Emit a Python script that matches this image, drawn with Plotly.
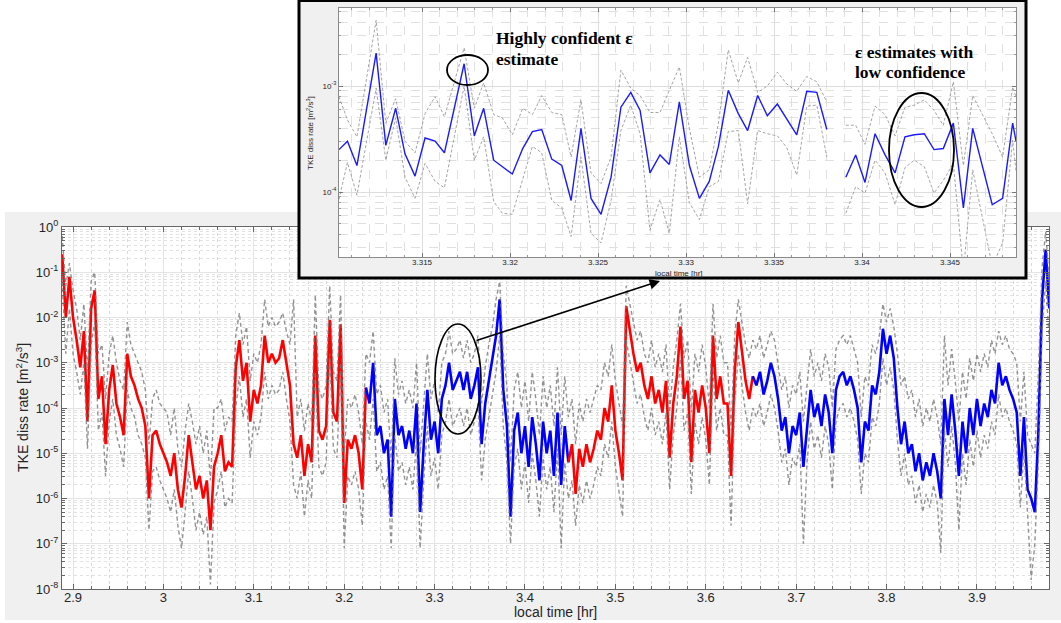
import numpy as np
import plotly.graph_objects as go

# ---------------- main series (log10 of TKE dissipation rate) ----------------
t_start, t_step = 2.888, 0.004
eps_log = [
    -0.6, -2.0, -1.1, -2.0, -2.5, -3.1, -2.3, -4.3, -1.8, -1.4,
    -3.8, -3.3, -4.8, -3.6, -3.05, -3.9, -4.2, -4.6, -2.8, -3.3,
    -3.5, -3.8, -4.0, -4.4, -6.0, -4.6, -4.5, -4.8, -5.0, -5.2,
    -5.5, -5.0, -5.8, -6.2, -5.5, -4.6, -5.2, -5.8, -5.5, -6.0,
    -5.6, -6.7, -5.3, -5.0, -4.6, -5.4, -5.2, -5.3, -3.1, -2.5,
    -3.4, -3.0, -4.3, -3.6, -3.9, -3.5, -2.4, -3.0, -2.8, -3.0,
    -2.9, -2.5, -3.0, -3.5, -4.8, -5.1, -4.6, -5.5, -4.8, -5.2,
    -2.4, -4.5, -4.7, -4.4, -2.05, -4.1, -4.3, -2.15, -6.1, -4.7,
    -4.9, -4.6, -5.0, -5.8, -3.55, -3.9, -3.0, -4.6, -4.4, -5.0,
    -4.7, -6.4, -3.8, -4.6, -4.4, -4.9, -4.5, -5.0, -3.9, -6.3,
    -4.8, -3.6, -4.7, -4.3, -5.0, -3.8, -3.5, -3.0, -3.6, -3.4,
    -3.2, -3.6, -3.2, -3.8, -3.5, -3.1, -4.8, -3.9, -3.4, -2.9,
    -2.4, -1.6, -3.6, -4.4, -6.4, -4.5, -4.1, -5.0, -4.4, -5.3,
    -4.2, -4.8, -5.6, -4.3, -5.0, -4.5, -5.5, -4.1, -5.7, -4.4,
    -5.2, -4.8, -5.9, -4.9, -5.3, -4.8, -5.2, -4.9, -4.5, -4.7,
    -4.0, -4.3, -3.5, -4.5, -5.0, -5.6, -1.75, -2.3, -2.8, -3.2,
    -3.0, -3.5, -3.8, -3.3, -3.9, -3.6, -4.1, -3.4, -5.1, -3.9,
    -3.3, -2.2, -3.8, -3.4, -5.2, -3.6, -4.1, -3.5, -4.0, -5.0,
    -2.4, -3.8, -3.3, -3.9, -3.9, -5.5, -3.2, -2.1, -2.8, -3.4,
    -3.8, -3.3, -3.5, -3.2, -3.7, -3.4, -3.0, -3.3, -3.8, -4.5,
    -4.2, -5.0, -4.4, -4.6, -4.1, -5.3, -4.5, -3.6, -4.2, -3.9,
    -4.4, -3.7, -4.1, -5.0, -3.6, -3.3, -3.2, -3.5, -3.3, -3.6,
    -4.0, -5.2, -4.3, -4.5, -3.5, -3.7, -3.2, -2.25, -2.8, -2.4,
    -2.9, -4.0, -4.8, -4.3, -5.0, -4.8, -5.4, -5.0, -5.6, -5.2,
    -5.5, -5.0, -5.4, -6.0, -3.8, -4.6, -3.7, -4.5, -5.5, -4.3,
    -5.0, -4.0, -4.6, -3.8, -4.4, -3.9, -4.2, -3.6, -3.9, -3.0,
    -3.5, -3.3, -3.6, -3.8, -4.1, -5.5, -4.2, -5.8, -6.0, -6.3,
    -4.5, -1.6, -0.5, -1.8,
]
hi_log = [
    -0.2, -1.3, -0.8, -1.4, -1.8, -2.5, -1.7, -3.2, -1.2, -1.0,
    -2.8, -2.6, -3.8, -2.8, -2.4, -3.0, -3.4, -3.6, -2.1, -2.6,
    -2.8, -3.0, -3.2, -3.6, -4.8, -3.8, -3.6, -3.9, -4.0, -4.1,
    -4.6, -4.0, -4.9, -5.3, -4.5, -3.9, -4.3, -4.8, -4.4, -5.0,
    -4.5, -5.6, -4.0, -4.0, -3.8, -4.5, -4.2, -4.3, -2.4, -1.9,
    -2.6, -2.2, -3.4, -2.8, -3.0, -2.6, -1.6, -2.2, -2.0, -2.2,
    -2.1, -1.9, -2.3, -2.6, -1.6, -4.2, -3.8, -4.5, -3.9, -4.3,
    -1.5, -3.6, -3.8, -3.5, -1.3, -3.2, -3.4, -1.5, -5.0, -3.8,
    -4.0, -3.7, -4.1, -4.8, -2.8, -3.0, -2.3, -3.7, -3.5, -4.1,
    -3.8, -5.2, -2.9, -3.7, -3.4, -3.9, -3.6, -4.0, -3.0, -5.0,
    -3.9, -2.8, -3.8, -3.4, -4.1, -3.0, -2.8, -2.3, -2.8, -2.7,
    -2.5, -2.9, -2.5, -3.0, -2.8, -2.4, -3.9, -3.1, -2.6, -2.2,
    -1.6, -1.2, -2.8, -3.5, -5.2, -3.6, -3.2, -4.0, -3.4, -4.3,
    -3.2, -3.8, -4.6, -3.3, -4.0, -3.5, -4.4, -3.1, -4.6, -3.3,
    -4.2, -3.8, -4.8, -3.9, -4.3, -3.8, -4.1, -3.8, -3.5, -3.6,
    -3.0, -3.3, -2.6, -3.4, -3.9, -4.4, -1.3, -1.7, -2.1, -2.5,
    -2.3, -2.8, -3.0, -2.5, -3.1, -2.8, -3.2, -2.6, -4.1, -3.1,
    -2.5, -1.7, -2.9, -2.5, -4.1, -2.8, -3.2, -2.6, -3.1, -4.0,
    -1.7, -2.9, -2.4, -3.0, -3.0, -4.5, -2.4, -1.6, -2.1, -2.6,
    -2.9, -2.5, -2.7, -2.4, -2.9, -2.6, -2.3, -2.5, -3.0, -3.6,
    -3.3, -4.0, -3.5, -3.7, -3.2, -4.3, -3.5, -2.7, -3.3, -3.0,
    -3.4, -2.8, -3.1, -4.0, -2.7, -2.5, -2.4, -2.6, -2.4, -2.7,
    -3.0, -4.2, -3.3, -3.5, -2.6, -2.8, -2.4, -1.7, -2.1, -1.8,
    -2.2, -2.8, -3.5, -3.3, -3.8, -3.6, -4.2, -3.8, -4.4, -4.0,
    -4.3, -3.8, -4.2, -4.8, -2.4, -3.5, -2.7, -3.4, -4.3, -3.2,
    -3.8, -2.9, -3.4, -2.8, -3.2, -2.8, -3.1, -2.5, -2.8, -2.3,
    -2.6, -2.4, -2.7, -2.8, -3.0, -4.3, -3.2, -4.6, -4.8, -5.0,
    -3.2, -0.9, -0.1, -1.2,
]
lo_log = [
    -1.2, -2.8, -1.8, -2.8, -3.2, -3.7, -3.0, -4.9, -2.6, -2.1,
    -4.5, -4.1, -5.5, -4.3, -3.8, -4.6, -4.9, -5.3, -3.6, -4.0,
    -4.2, -4.6, -4.8, -5.1, -6.7, -5.4, -5.3, -5.6, -5.8, -6.0,
    -6.3, -5.8, -6.6, -7.1, -6.3, -5.4, -6.0, -6.7, -6.3, -6.8,
    -6.4, -7.9, -6.1, -5.8, -5.4, -6.2, -6.0, -6.1, -4.0, -3.3,
    -4.2, -3.8, -5.1, -4.3, -4.6, -4.2, -3.2, -3.8, -3.5, -3.7,
    -3.6, -3.2, -3.8, -4.3, -5.7, -6.0, -5.4, -6.4, -5.6, -6.0,
    -3.2, -5.3, -5.5, -5.2, -2.8, -4.9, -5.1, -3.0, -7.1, -5.5,
    -5.7, -5.4, -5.8, -6.6, -4.3, -4.7, -3.8, -5.4, -5.2, -5.8,
    -5.5, -7.1, -4.6, -5.4, -5.2, -5.7, -5.3, -5.8, -4.7, -7.1,
    -5.6, -4.4, -5.5, -5.1, -5.8, -4.6, -4.3, -3.8, -4.4, -4.2,
    -4.0, -4.4, -4.0, -4.6, -4.3, -3.9, -5.6, -4.7, -4.2, -3.7,
    -3.2, -2.4, -4.4, -5.2, -7.0, -5.3, -4.9, -5.8, -5.2, -6.1,
    -5.0, -5.6, -6.4, -5.1, -5.8, -5.3, -6.3, -4.9, -7.1, -5.2,
    -6.0, -5.6, -6.6, -5.7, -6.1, -5.6, -6.0, -5.7, -5.3, -5.5,
    -4.8, -5.1, -4.3, -5.3, -5.8, -6.4, -2.5, -3.0, -3.5, -3.9,
    -3.7, -4.2, -4.5, -4.0, -4.6, -4.3, -4.8, -4.1, -5.8, -4.6,
    -4.0, -2.9, -4.5, -4.1, -5.9, -4.3, -4.8, -4.2, -4.7, -5.7,
    -3.1, -4.5, -4.0, -4.6, -4.6, -6.6, -3.9, -2.8, -3.5, -4.1,
    -4.5, -4.0, -4.2, -3.9, -4.4, -4.1, -3.7, -4.0, -4.5, -5.2,
    -4.9, -5.7, -5.1, -5.3, -4.8, -7.0, -5.2, -4.3, -4.9, -4.6,
    -5.1, -4.4, -4.8, -5.8, -4.3, -4.0, -3.9, -4.2, -4.0, -4.3,
    -4.7, -5.9, -5.0, -5.2, -4.2, -4.4, -3.9, -2.9, -3.5, -3.1,
    -3.6, -4.7, -5.5, -5.0, -5.7, -5.5, -6.1, -5.7, -6.3, -5.9,
    -6.2, -5.7, -6.1, -7.2, -4.5, -5.3, -4.4, -5.2, -6.7, -5.0,
    -5.7, -4.7, -5.3, -4.5, -5.1, -4.6, -4.9, -4.3, -4.6, -3.7,
    -4.2, -4.0, -4.3, -4.5, -4.8, -6.2, -4.9, -6.5, -7.8, -7.0,
    -5.2, -2.3, -1.2, -2.5,
]
seg_edges = [2.888, 3.224, 3.448, 3.652, 3.980]
seg_colors = ["#ff0000", "#0000ff", "#ff0000", "#0000ff"]

# ---------------- inset series ----------------
inset_t = [
    3.31028, 3.31076, 3.31130, 3.31239, 3.31294, 3.31350, 3.31403, 3.31460, 3.31517, 3.31574,
    3.31627, 3.31739, 3.31797, 3.31850, 3.31907, 3.31956, 3.32013, 3.32072, 3.32127, 3.32180,
    3.32237, 3.32294, 3.32347, 3.32403, 3.32460, 3.32517, 3.32574, 3.32630, 3.32686, 3.32739,
    3.32795, 3.32852, 3.32905, 3.32962, 3.33019, 3.33076, 3.33132, 3.33184, 3.33240, 3.33297,
    3.33350, 3.33407, 3.33462, 3.33519, 3.33572, 3.33629, 3.33686, 3.33743, 3.33800, 3.33854,
    3.33908, 3.33964, 3.34017, 3.34074, 3.34131, 3.34188, 3.34244, 3.34297, 3.34354, 3.34409,
    3.34462, 3.34519, 3.34576, 3.34629, 3.34740, 3.34799, 3.34856, 3.34875,
]
inset_eps_log = [
    -3.60, -3.52, -3.75, -2.69, -3.56, -3.21, -3.64, -3.85, -3.49, -3.52,
    -3.63, -2.79, -3.47, -3.21, -3.70, -3.76, -3.83, -3.59, -3.43, -3.41,
    -3.69, -3.75, -4.08, -3.40, -4.06, -4.21, -3.86, -3.20, -3.06, -3.23,
    -3.82, -3.65, -3.74, -3.15, -3.75, -4.06, -3.90, -3.57, -3.04, -3.26,
    -3.42, -3.09, -3.28, -3.17, -3.31, -3.46, -3.05, -3.06, -3.41, None,
    -3.86, -3.65, -3.91, -3.45, -3.65, -3.82, -3.48, -3.46, -3.45, -3.60,
    -3.59, -3.35, -4.15, -3.40, -4.12, -4.06, -3.35, -3.52,
]
inset_hi_log = [
    -3.10, -3.32, -3.48, -2.38, -3.35, -3.12, -3.52, -3.63, -3.26, -3.10,
    -3.29, -2.64, -3.21, -2.97, -3.27, -3.30, -3.46, -3.21, -3.27, -3.09,
    -3.25, -3.27, -3.67, -3.13, -3.82, -3.92, -3.67, -2.85, -3.02, -3.09,
    -3.25, -3.25, -3.04, -2.82, -3.40, -3.86, -3.79, -3.35, -2.66, -2.97,
    -2.73, -3.06, -3.00, -2.87, -2.98, -3.05, -2.91, -2.96, -3.15, None,
    -3.37, -3.37, -3.55, -3.19, -3.27, -3.47, -3.20, -3.18, -3.13, -3.23,
    -3.37, -2.96, -3.75, -3.09, -3.45, -3.67, -3.01, -3.10,
]
inset_lo_log = [
    -4.07, -3.72, -4.03, -3.02, -3.70, -3.30, -3.86, -4.06, -3.73, -3.90,
    -3.96, -3.00, -3.70, -3.48, -4.09, -4.20, -4.21, -3.87, -3.57, -3.63,
    -4.08, -4.15, -4.42, -3.67, -4.39, -4.48, -4.08, -3.42, -3.18, -3.45,
    -4.36, -4.07, -4.39, -3.48, -4.10, -4.26, -3.95, -3.90, -3.43, -3.42,
    -4.11, -3.42, -3.45, -3.47, -3.58, -3.84, -3.19, -3.18, -3.67, None,
    -4.20, -3.95, -4.01, -3.70, -3.82, -4.12, -3.77, -3.70, -3.76, -4.01,
    -3.89, -3.73, -4.75, -3.79, -4.70, -4.48, -3.51, -3.80,
]

main_xticks = [2.9, 3.0, 3.1, 3.2, 3.3, 3.4, 3.5, 3.6, 3.7, 3.8, 3.9]
main_xticktext = ["2.9", "3", "3.1", "3.2", "3.3", "3.4", "3.5", "3.6", "3.7", "3.8", "3.9"]
main_yexp = [-8, -7, -6, -5, -4, -3, -2, -1, 0]
inset_xticks = [3.315, 3.32, 3.325, 3.33, 3.335, 3.34, 3.345]
inset_xticktext = ["3.315", "3.32", "3.325", "3.33", "3.335", "3.34", "3.345"]
inset_yexp = [-4, -3]


def p10(v):
    return [None if a is None else 10.0 ** a for a in v]


W, H = 1061, 623
def px(x):
    return x / W
def py(y):
    return 1 - y / H

t_main = np.round(t_start + t_step * np.arange(len(eps_log)), 3)
eps = np.array(p10(eps_log), dtype=float)
hi = np.array(p10(hi_log), dtype=float)
lo = np.array(p10(lo_log), dtype=float)

fig = go.Figure()

for k, col in enumerate(seg_colors):
    m = (t_main >= seg_edges[k] - 1e-9) & (t_main <= seg_edges[k + 1] + 1e-9)
    fig.add_trace(go.Scatter(x=t_main[m], y=eps[m], mode="lines",
                             line=dict(color=col, width=2.6),
                             showlegend=False, hoverinfo="skip", xaxis="x", yaxis="y"))
for arr in (hi, lo):
    fig.add_trace(go.Scatter(x=t_main, y=arr, mode="lines",
                             line=dict(color="rgba(120,120,120,0.8)", width=1.4, dash="4px,3px"),
                             showlegend=False, hoverinfo="skip", xaxis="x", yaxis="y"))

fig.add_trace(go.Scatter(x=[0.5], y=[0.5], mode="markers", marker=dict(opacity=0),
                         showlegend=False, hoverinfo="skip", xaxis="x2", yaxis="y2"))

for arr in (inset_hi_log, inset_lo_log):
    fig.add_trace(go.Scatter(x=inset_t, y=p10(arr), mode="lines", connectgaps=False,
                             line=dict(color="#9a9a9a", width=0.9, dash="3px,2px"),
                             showlegend=False, hoverinfo="skip", xaxis="x3", yaxis="y3"))
fig.add_trace(go.Scatter(x=inset_t, y=p10(inset_eps_log), mode="lines", connectgaps=False,
                         line=dict(color="#1a1aff", width=1.4),
                         showlegend=False, hoverinfo="skip", xaxis="x3", yaxis="y3"))

axis_col = "#666666"
grid_major = "#e4e4e4"
grid_minor = "#e2e2e2"
sans = "Liberation Sans, Arial, sans-serif"
tick_font = dict(family=sans, size=13, color="#262626")
small_font = dict(family=sans, size=8, color="#262626")

fig.update_layout(
    template="none",
    width=W, height=H, autosize=False,
    margin=dict(l=0, r=0, t=0, b=0, pad=0),
    paper_bgcolor="white", plot_bgcolor="white",
    showlegend=False,
    xaxis=dict(domain=[px(62), px(1049)], range=[2.8878, 3.9797], anchor="y", automargin=False,
               tickmode="array", tickvals=main_xticks, ticktext=main_xticktext,
               ticks="inside", ticklen=5, tickcolor=axis_col, mirror="ticks",
               ticklabelstandoff=-4,
               showline=True, linecolor=axis_col, linewidth=1,
               showgrid=True, gridcolor=grid_major, gridwidth=1,
               zeroline=False, tickfont=tick_font,
               minor=dict(tickmode="linear", tick0=2.9, dtick=0.02, ticks="inside", ticklen=3,
                          tickcolor=axis_col, showgrid=True, gridcolor="#d8d8d8", griddash="dot",
                          gridwidth=1)),
    yaxis=dict(domain=[py(589), py(227)], type="log", range=[-8, 0], anchor="x", automargin=False,
               tickmode="array", tickvals=[10.0 ** e for e in main_yexp],
               ticktext=["10<sup>%d</sup>" % e for e in main_yexp],
               ticks="inside", ticklen=5, tickcolor=axis_col, mirror="ticks",
               showline=True, linecolor=axis_col, linewidth=1,
               showgrid=True, gridcolor=grid_major, gridwidth=1,
               zeroline=False, tickfont=tick_font,
               minor=dict(tickmode="linear", dtick="D1", ticks="inside", ticklen=3,
                          tickcolor=axis_col, showgrid=True, gridcolor=grid_minor, griddash="dot",
                          gridwidth=1)),
    xaxis2=dict(domain=[px(298), px(1027)], range=[0, 1], anchor="y2", visible=False,
                fixedrange=True, automargin=False),
    yaxis2=dict(domain=[py(279), 1.0], range=[0, 1], anchor="x2", visible=False,
                fixedrange=True, automargin=False),
    xaxis3=dict(domain=[px(339), px(1016)], range=[3.31028, 3.34875], anchor="y3", automargin=False,
                tickmode="array", tickvals=inset_xticks, ticktext=inset_xticktext,
                ticks="inside", ticklen=4, tickcolor="#777", mirror="ticks",
                ticklabelstandoff=-3,
                showline=True, linecolor="#8a8a8a", linewidth=1,
                showgrid=True, gridcolor="#dddddd", gridwidth=1,
                zeroline=False, tickfont=small_font,
                minor=dict(tickmode="linear", tick0=3.315, dtick=0.001, ticks="inside", ticklen=2,
                           tickcolor="#999", showgrid=True, gridcolor="#e0e0e0", griddash="dash",
                           gridwidth=1)),
    yaxis3=dict(domain=[py(257), py(8)], type="log", range=[-4.613, -2.264], anchor="x3",
                automargin=False,
                tickmode="array", tickvals=[10.0 ** e for e in inset_yexp],
                ticktext=["10<sup>%d</sup>" % e for e in inset_yexp],
                ticks="inside", ticklen=4, tickcolor="#777", mirror="ticks",
                showline=True, linecolor="#8a8a8a", linewidth=1,
                showgrid=True, gridcolor="#dddddd", gridwidth=1,
                zeroline=False, tickfont=small_font,
                minor=dict(tickmode="linear", dtick="D1", ticks="inside", ticklen=2,
                           tickcolor="#999", showgrid=True, gridcolor="#e0e0e0", griddash="dash",
                           gridwidth=1)),
)

shapes = [
    dict(type="rect", xref="paper", yref="paper", x0=px(5), x1=1.0, y0=py(620), y1=py(212),
         fillcolor="#f0f0f0", line=dict(width=0), layer="below"),
    dict(type="rect", xref="paper", yref="paper", x0=px(62), x1=px(1049), y0=py(589), y1=py(227),
         fillcolor="white", line=dict(width=0), layer="below"),
    dict(type="rect", xref="x2", yref="y2", x0=0, x1=1, y0=0, y1=1,
         fillcolor="#f0f0f0", line=dict(width=0), layer="below"),
    dict(type="rect", xref="paper", yref="paper", x0=px(299), x1=px(1026), y0=py(278), y1=py(0.5),
         fillcolor="rgba(0,0,0,0)", line=dict(color="black", width=3), layer="above"),
    dict(type="circle", xref="paper", yref="paper", x0=px(435), x1=px(481), y0=py(434), y1=py(324),
         line=dict(color="black", width=1.6), layer="above"),
    dict(type="circle", xref="paper", yref="paper", x0=px(447), x1=px(488), y0=py(85), y1=py(55),
         line=dict(color="black", width=1.8), layer="above"),
    dict(type="circle", xref="paper", yref="paper", x0=px(889), x1=px(954), y0=py(207), y1=py(93),
         line=dict(color="black", width=1.8), layer="above"),
]
fig.update_layout(shapes=shapes)

serif = "Liberation Serif, Times New Roman, serif"
big = dict(family=serif, size=17.5, color="black")


def note(text, x, y, font, xanchor="center", angle=0):
    return dict(text=text, x=px(x), y=py(y), xref="paper", yref="paper", showarrow=False,
                xanchor=xanchor, yanchor="middle", textangle=angle, font=font)


ann = [
    note("local time [hr]", 555, 612, dict(family=sans, size=14, color="#262626")),
    note("TKE diss rate [m<sup>2</sup>/s<sup>3</sup>]", 22, 408,
         dict(family=sans, size=14, color="#262626"), angle=-90),
    note("local time [hr]", 679, 273, small_font),
    note("TKE diss rate [m<sup>2</sup>/s<sup>3</sup>]", 310, 133, small_font, angle=-90),
    note("<b>Highly confident \u03b5</b>", 494, 38, big, xanchor="left"),
    note("<b>estimate</b>", 494, 59, big, xanchor="left"),
    note("<b>\u03b5 estimates with</b>", 853, 51.5, big, xanchor="left"),
    note("<b>low confidence</b>", 853, 72.5, big, xanchor="left"),
    dict(text="", x=px(660), y=py(281), xref="paper", yref="paper",
         ax=-185, ay=60, axref="pixel", ayref="pixel", showarrow=True,
         arrowhead=2, arrowsize=1.3, arrowwidth=1.6, arrowcolor="black"),
]
fig.update_layout(annotations=ann)

fig.write_html("out.html", config={"displayModeBar": False},
               post_script="document.body.style.margin='0';document.body.style.overflow='hidden';")
